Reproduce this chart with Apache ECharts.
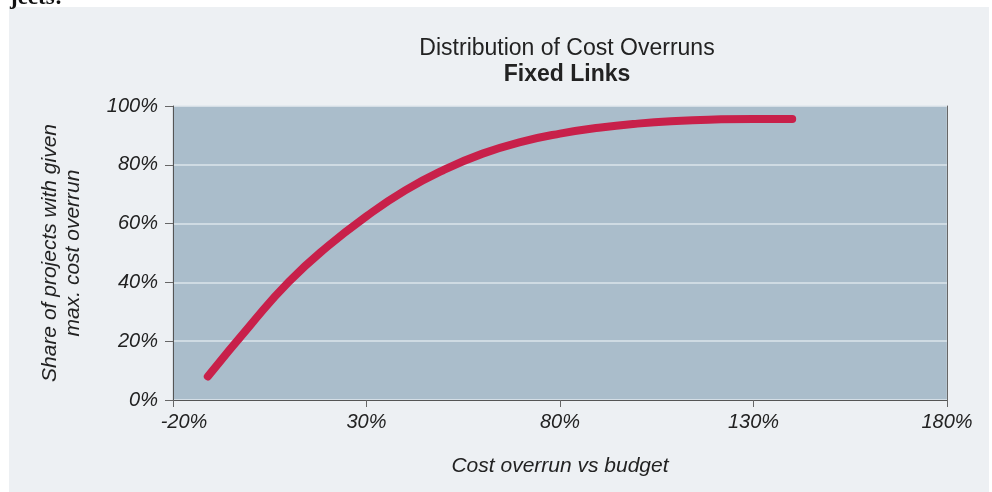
<!DOCTYPE html>
<html>
<head>
<meta charset="utf-8">
<script src="https://cdn.jsdelivr.net/npm/echarts@6/dist/echarts.min.js"></script>
<style>
  html, body { margin: 0; padding: 0; background: #fff; }
  #chart { width: 992px; height: 492px; }
</style>
</head>
<body>
<div id="chart"></div>
<script>
// cost overrun (%) vs share of projects (%)
const overrun = [-11, 0, 10, 20, 30, 40, 50, 60, 70, 80, 90, 100, 110, 120, 130, 140];
const share = [8, 25.5, 40.3, 52.3, 62.5, 71.3, 78.3, 83.8, 87.8, 90.6, 92.6, 94, 94.9, 95.4, 95.6, 95.6];
const xTicks = [-20, 30, 80, 130, 180];
const yTicks = [0, 20, 40, 60, 80, 100];

const font = '"Liberation Sans", Arial, sans-serif';

const chartDom = document.getElementById("chart");
const myChart = echarts.init(chartDom);

const option = {
  animation: false,
  backgroundColor: "#fff",
  graphic: [
    {
      type: "rect",
      z: -10,
      shape: { x: 9, y: 7, width: 980, height: 490 },
      style: { fill: "#edf0f3" },
    },
    {
      type: "text",
      left: 10,
      top: -13,
      style: {
        text: "jects:",
        font: 'bold 23px "Liberation Serif", serif',
        fill: "#111",
      },
    },
  ],
  title: {
    text: "Distribution of Cost Overruns",
    subtext: "Fixed Links",
    left: 562,
    top: 32,
    textAlign: "center",
    itemGap: 3,
    textStyle: {
      fontFamily: font,
      fontSize: 23,
      fontWeight: "normal",
      color: "#222",
    },
    subtextStyle: {
      fontFamily: font,
      fontSize: 23,
      fontWeight: "bold",
      color: "#222",
    },
  },
  grid: {
    left: 173,
    right: 45,
    top: 106,
    bottom: 92,
    show: true,
    backgroundColor: "#aabdcb",
    borderColor: "#c3ccd4",
    borderWidth: 1,
  },
  xAxis: {
    type: "value",
    min: xTicks[0],
    max: xTicks[xTicks.length - 1],
    interval: 50,
    name: "Cost overrun vs budget",
    nameLocation: "middle",
    nameGap: 56,
    nameTextStyle: {
      fontFamily: font,
      fontStyle: "italic",
      fontSize: 21,
      color: "#222",
    },
    axisLine: { show: true, onZero: false, lineStyle: { color: "#555", width: 1 } },
    axisTick: { show: true, length: 7, lineStyle: { color: "#666" } },
    splitLine: { show: false },
    axisLabel: {
      fontFamily: font,
      fontStyle: "italic",
      fontSize: 20,
      color: "#222",
      margin: 12,
      formatter: (v) => (v === xTicks[0] ? "{first|" + v + "%}" : v + "%"),
      rich: {
        first: {
          fontFamily: font,
          fontStyle: "italic",
          fontSize: 20,
          color: "#222",
          padding: [0, 0, 0, 22],
        },
      },
    },
  },
  yAxis: [
    {
      type: "value",
      min: yTicks[0],
      max: yTicks[yTicks.length - 1],
      interval: 20,
      name: "Share of projects with given\nmax. cost overrun",
      nameLocation: "middle",
      nameGap: 88,
      nameTextStyle: {
        fontFamily: font,
        fontStyle: "italic",
        fontSize: 21,
        lineHeight: 23,
        color: "#222",
      },
      axisLine: { show: true, onZero: false, lineStyle: { color: "#555", width: 1 } },
      axisTick: { show: true, length: 8, lineStyle: { color: "#666" } },
      splitLine: { show: true, lineStyle: { color: "rgba(240,245,250,0.7)", width: 1.5 } },
      axisLabel: {
        fontFamily: font,
        fontStyle: "italic",
        fontSize: 20,
        color: "#222",
        margin: 15,
        formatter: (v) => v + "%",
      },
    },
    {
      type: "value",
      position: "right",
      min: 0,
      max: 100,
      interval: 20,
      axisLine: { show: true, onZero: false, lineStyle: { color: "#666", width: 1 } },
      axisTick: { show: false },
      axisLabel: { show: false },
      splitLine: { show: false },
    },
  ],
  series: [
    {
      type: "line",
      data: overrun.map((x, i) => [x, share[i]]),
      smooth: 0.5,
      showSymbol: false,
      lineStyle: { color: "#c8204a", width: 8, cap: "round" },
    },
  ],
};

myChart.setOption(option);
window.addEventListener("resize", () => {
  myChart.resize();
});
</script>
</body>
</html>
